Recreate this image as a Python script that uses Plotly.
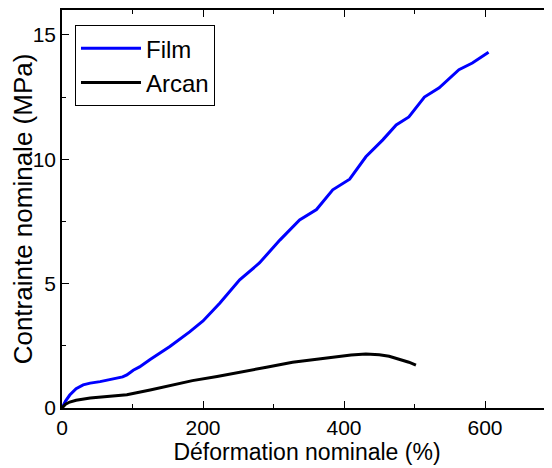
import plotly.graph_objects as go

# Film (blue) strain (%) / stress (MPa)
film_x = [0, 5, 11, 20, 30, 40, 54, 68, 86, 92, 101, 110, 125, 153, 181, 200, 224, 252, 280, 309, 337,
          361, 384, 408, 431, 455, 474, 492, 514, 535, 563, 582, 605]
film_y = [0, 0.28, 0.52, 0.78, 0.93, 1.0, 1.06, 1.13, 1.25, 1.33, 1.52, 1.65, 1.95, 2.47, 3.06, 3.5, 4.22,
          5.15, 5.83, 6.75, 7.56, 7.98, 8.77, 9.2, 10.1, 10.78, 11.38, 11.7, 12.5, 12.87, 13.6, 13.87, 14.3]

# Arcan (black)
arcan_x = [0, 5, 11, 20, 40, 70, 92, 125, 155, 185, 220, 256, 290, 327, 351, 384, 410, 431, 450, 464, 480, 492, 502]
arcan_y = [0, 0.15, 0.24, 0.31, 0.4, 0.47, 0.53, 0.72, 0.92, 1.1, 1.27, 1.45, 1.64, 1.84, 1.93, 2.05, 2.13, 2.17,
           2.14, 2.08, 1.96, 1.84, 1.72]

x_ticks = [0, 200, 400, 600]
y_ticks = [0, 5, 10, 15]

FONT = "Liberation Sans, Arial, sans-serif"

fig = go.Figure()
fig.add_trace(go.Scatter(x=film_x, y=film_y, mode="lines", name="Film",
                         line=dict(color="#0000ff", width=3)))
fig.add_trace(go.Scatter(x=arcan_x, y=arcan_y, mode="lines", name="Arcan",
                         line=dict(color="black", width=3)))
# empty trace so the right-hand tick axis is rendered
fig.add_trace(go.Scatter(x=[], y=[], yaxis="y2", showlegend=False, hoverinfo="skip"))

XR = [0, 695]
YR = [0, 16]

fig.update_layout(
    width=544, height=460,
    margin=dict(l=54, r=0, t=2, b=60),
    paper_bgcolor="white", plot_bgcolor="white",
    font=dict(family=FONT, color="black", size=21),
    showlegend=True,
    legend=dict(x=0.0265, y=0.962, xanchor="left", yanchor="top",
                bordercolor="black", borderwidth=1, bgcolor="white",
                font=dict(size=24, family=FONT), tracegroupgap=0,
                itemwidth=60),
    xaxis=dict(range=XR, tickvals=x_ticks, ticks="inside", ticklen=7, tickwidth=1.2,
               tickcolor="black", showline=True, linecolor="black", linewidth=1.5,
               mirror="ticks", showgrid=False, zeroline=False, automargin=False,
               minor=dict(ticks="inside", dtick=100, tick0=0, ticklen=4, tickcolor="black"),
               tickfont=dict(size=21),
               title=dict(text="Déformation nominale (%)", font=dict(size=23), standoff=0)),
    yaxis=dict(range=YR, tickvals=y_ticks, ticks="inside", ticklen=7, tickwidth=1.2,
               tickcolor="black", showline=True, linecolor="black", linewidth=1.5,
               showgrid=False, zeroline=False, automargin=False,
               minor=dict(ticks="inside", dtick=2.5, tick0=0, ticklen=4, tickcolor="black"),
               tickfont=dict(size=21),
               title=dict(text="Contrainte nominale (MPa)", font=dict(size=26), standoff=2)),
    yaxis2=dict(range=YR, overlaying="y", side="right", anchor="x", tickvals=y_ticks,
                ticks="inside", ticklen=5, tickwidth=1.5, tickcolor="black",
                showticklabels=False, showline=False, showgrid=False, zeroline=False,
                minor=dict(ticks="inside", dtick=2.5, tick0=0, ticklen=3, tickcolor="black")),
)

fig.write_html("out.html")
